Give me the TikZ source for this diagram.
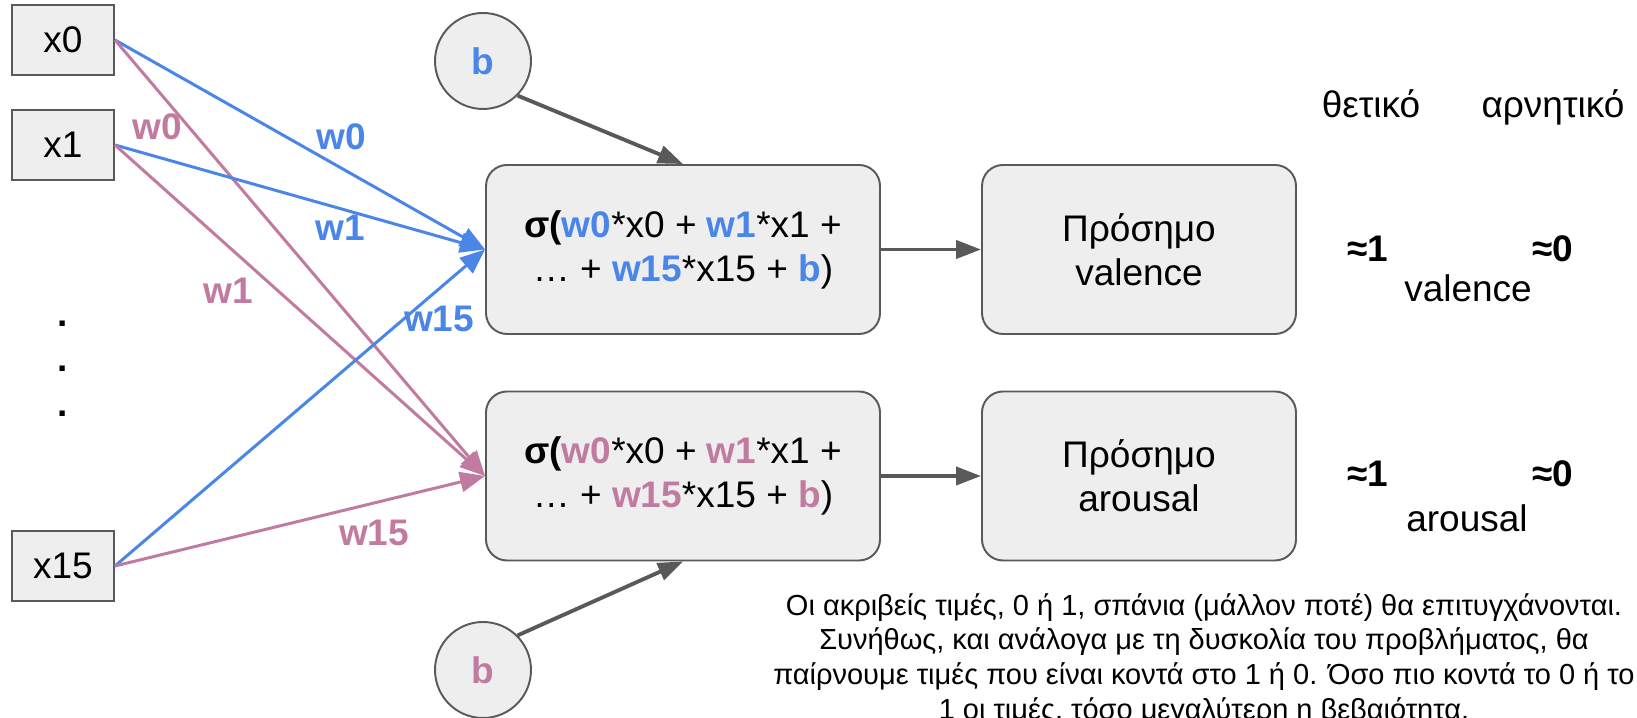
\documentclass[tikz,border=0pt]{standalone}
\usepackage{fontspec}
\setmainfont{Liberation Sans}
\usepackage{tikz}
\usetikzlibrary{arrows.meta, positioning}
\definecolor{wblue}{HTML}{4A86E8}
\definecolor{wpink}{HTML}{C27BA0}
\definecolor{boxfill}{HTML}{EEEEEE}
\definecolor{boxline}{HTML}{595959}
\newcommand{\wbl}[1]{\textcolor{wblue}{\textbf{#1}}}
\newcommand{\wpk}[1]{\textcolor{wpink}{\textbf{#1}}}

\begin{document}
\begin{tikzpicture}[
  font=\fontsize{21.05pt}{25.04pt}\selectfont,
  inbox/.style={draw=boxline, fill=boxfill, line width=1.1pt, minimum width=2.04cm, minimum height=1.4cm, inner sep=0pt},
  bias/.style={circle, draw=boxline, fill=boxfill, line width=1.1pt, minimum size=1.92cm, inner sep=0pt, font=\fontsize{21.05pt}{25.04pt}\selectfont\bfseries},
  sumbox/.style={draw=boxline, fill=boxfill, line width=1.1pt, rounded corners=0.42cm, minimum width=7.88cm, minimum height=3.38cm, align=center, inner sep=0pt},
  signbox/.style={sumbox, minimum width=6.28cm},
  wlabel/.style={inner sep=0pt, font=\fontsize{21.05pt}{25.04pt}\selectfont\bfseries},
  bluearr/.style={draw=wblue, line width=1.7pt, -{Triangle[length=0.5cm, width=0.4cm]}},
  pinkarr/.style={draw=wpink, line width=1.7pt, -{Triangle[length=0.5cm, width=0.4cm]}},
  grayarr/.style={draw=boxline, line width=2.2pt, -{Triangle[length=0.5cm, width=0.36cm]}}
]
  \useasboundingbox (0,0) rectangle (32.74,14.36);
  \clip (0,0) rectangle (32.74,14.36);

  \node[inbox] (x0) at (1.26, 13.56) {x0};
  \node[inbox] (x1) at (1.26, 11.46) {x1};
  \node[inbox] (x15) at (1.26, 3.04) {x15};
  \foreach \i/\y in {1/7.82, 2/6.92, 3/6.02}
    \node[anchor=base, inner sep=0pt, font=\fontsize{21.05pt}{25.04pt}\selectfont\bfseries] (dot\i) at (1.26, \y) {.};

  \node[bias, text=wblue] (b1) at (9.66, 13.14) {b};
  \node[bias, text=wpink] (b2) at (9.66, 0.96) {b};

  \node[sumbox] (s1) at (13.66, 9.37) {
    \textbf{σ(}\wbl{w0}*x0 + \wbl{w1}*x1 +\\
    … + \wbl{w15}*x15 + \wbl{b})
  };
  \node[sumbox] (s2) at (13.66, 4.84) {
    \textbf{σ(}\wpk{w0}*x0 + \wpk{w1}*x1 +\\
    … + \wpk{w15}*x15 + \wpk{b})
  };

  \node[signbox] (val) at (22.78, 9.37) {Πρόσημο\\valence};
  \node[signbox] (aro) at (22.78, 4.84) {Πρόσημο\\arousal};

  \foreach \src in {x0, x1, x15} {
    \draw[bluearr] (\src.east) -- (s1.west);
    \draw[pinkarr] (\src.east) -- (s2.west);
  }
  \draw[grayarr] (b1.south east) -- (s1.north);
  \draw[grayarr] (b2.north east) -- (s2.south);
  \draw[grayarr] (s1.east) -- (val.west);
  \draw[grayarr] (s2.east) -- (aro.west);

  \node[wlabel, text=wblue] (lb0) at (6.82, 11.62) {w0};
  \node[wlabel, text=wblue] (lb1) at (6.80, 9.80) {w1};
  \node[wlabel, text=wblue] (lb15) at (8.78, 7.98) {w15};
  \node[wlabel, text=wpink] (lp0) at (3.14, 11.82) {w0};
  \node[wlabel, text=wpink] (lp1) at (4.56, 8.54) {w1};
  \node[wlabel, text=wpink] (lp15) at (7.48, 3.70) {w15};

  \node[anchor=base, inner sep=0pt] (pos) at (27.42, 12.00) {θετικό};
  \node[anchor=base, inner sep=0pt] (neg) at (31.06, 12.00) {αρνητικό};
  \node[anchor=base, inner sep=0pt, font=\fontsize{21.05pt}{25.04pt}\selectfont\bfseries] (vone) at (27.36, 9.12) {≈1};
  \node[anchor=base, inner sep=0pt, font=\fontsize{21.05pt}{25.04pt}\selectfont\bfseries] (vzero) at (31.06, 9.12) {≈0};
  \node[anchor=base, inner sep=0pt] (vname) at (29.36, 8.32) {valence};
  \node[anchor=base, inner sep=0pt, font=\fontsize{21.05pt}{25.04pt}\selectfont\bfseries] (aone) at (27.36, 4.62) {≈1};
  \node[anchor=base, inner sep=0pt, font=\fontsize{21.05pt}{25.04pt}\selectfont\bfseries] (azero) at (31.06, 4.62) {≈0};
  \node[anchor=base, inner sep=0pt] (aname) at (29.34, 3.72) {arousal};

  \node[anchor=north, align=center, inner sep=0pt, font=\fontsize{16.5pt}{19.7pt}\selectfont] (note) at (24.08, 2.50) {
    Οι ακριβείς τιμές, 0 ή 1, σπάνια (μάλλον ποτέ) θα επιτυγχάνονται.\\
    Συνήθως, και ανάλογα με τη δυσκολία του προβλήματος, θα\\
    παίρνουμε τιμές που είναι κοντά στο 1 ή 0. Όσο πιο κοντά το 0 ή το\\
    1 οι τιμές, τόσο μεγαλύτερη η βεβαιότητα.
  };
\end{tikzpicture}
\end{document}
